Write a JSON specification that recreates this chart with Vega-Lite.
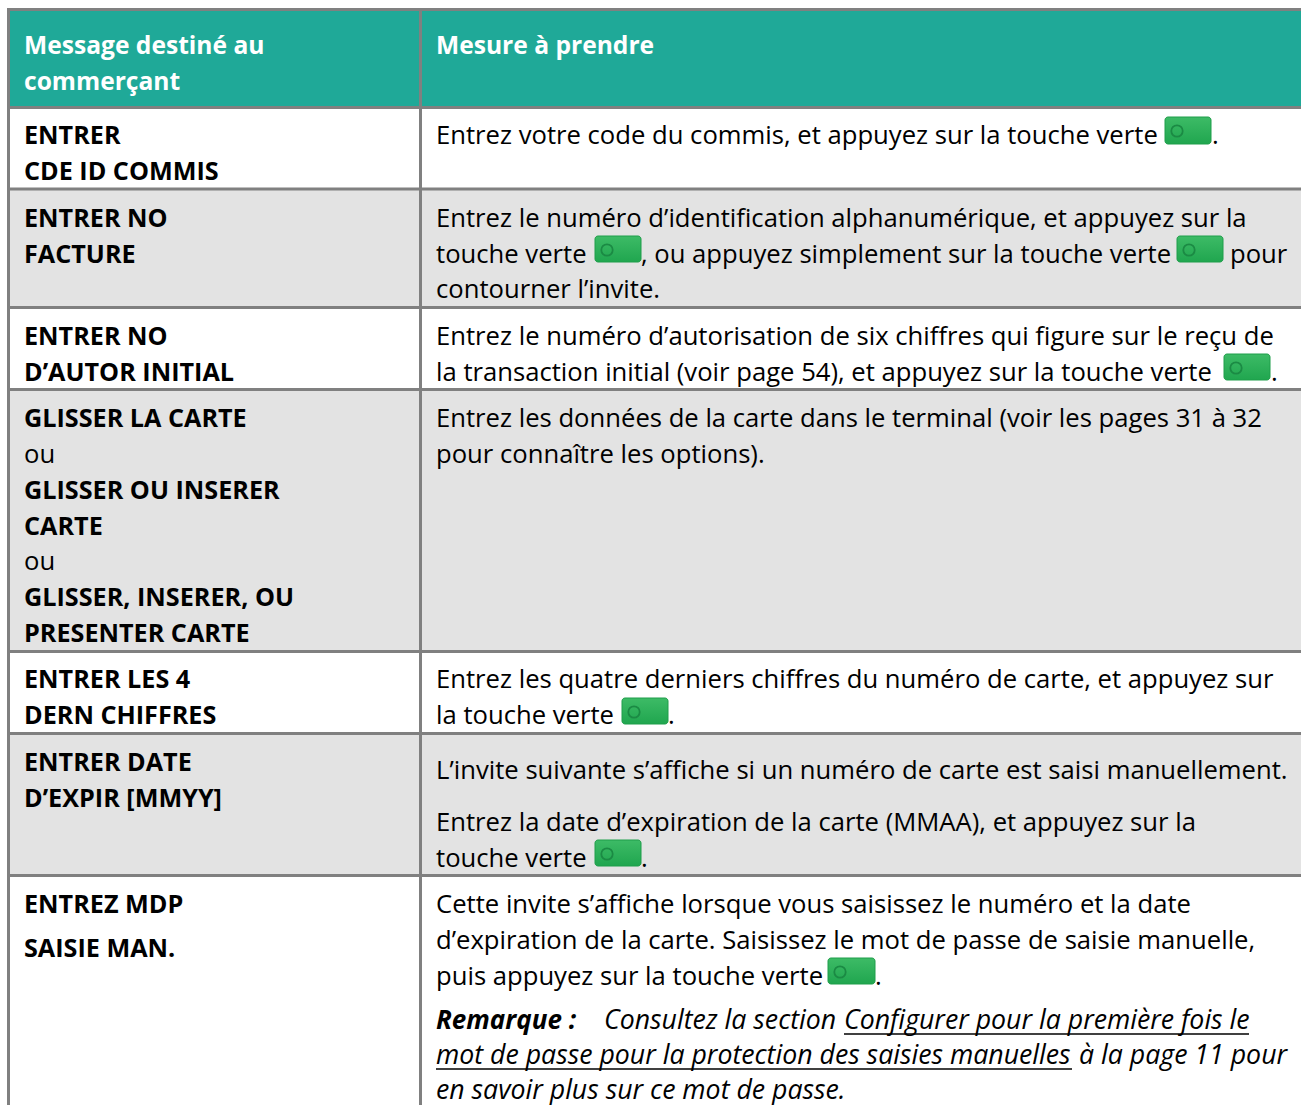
{"$schema":"https://vega.github.io/schema/vega-lite/v6.json","autosize":"none","padding":0,"width":1301,"height":1105,"background":"#ffffff","view":{"stroke":null},
"datasets":{
"cells":[{"x0":8,"x1":1301,"y0":10,"y1":107,"row":"header"},{"x0":8,"x1":1301,"y0":107,"y1":189,"row":"white"},{"x0":8,"x1":1301,"y0":189,"y1":307,"row":"grey"},{"x0":8,"x1":1301,"y0":307,"y1":389,"row":"white"},{"x0":8,"x1":1301,"y0":389,"y1":651,"row":"grey"},{"x0":8,"x1":1301,"y0":651,"y1":733,"row":"white"},{"x0":8,"x1":1301,"y0":733,"y1":875,"row":"grey"},{"x0":8,"x1":1301,"y0":875,"y1":1105,"row":"white"}],
"rules":[{"x0":7,"x1":1301,"y0":9.5,"y1":9.5},{"x0":8,"x1":1301,"y0":107.5,"y1":107.5},{"x0":8,"x1":1301,"y0":189,"y1":189},{"x0":8,"x1":1301,"y0":307.5,"y1":307.5},{"x0":8,"x1":1301,"y0":389.5,"y1":389.5},{"x0":8,"x1":1301,"y0":651.5,"y1":651.5},{"x0":8,"x1":1301,"y0":733.5,"y1":733.5},{"x0":8,"x1":1301,"y0":875.5,"y1":875.5},{"x0":8.5,"x1":8.5,"y0":8,"y1":1105},{"x0":420.5,"x1":420.5,"y0":8,"y1":1105}],
"lines":[
{"t":"Message destiné au","left":24,"base":54,"k":"head"},{"t":"commerçant","left":24,"base":90,"k":"head"},{"t":"Mesure à prendre","left":436,"base":54,"k":"head"},
{"t":"ENTRER","left":24,"base":144,"k":"bold"},{"t":"CDE ID COMMIS","left":24,"base":180,"k":"bold"},
{"t":"ENTRER NO","left":24,"base":227,"k":"bold"},{"t":"FACTURE","left":24,"base":263,"k":"bold"},
{"t":"ENTRER NO","left":24,"base":345,"k":"bold"},{"t":"D’AUTOR INITIAL","left":24,"base":381,"k":"bold"},
{"t":"GLISSER LA CARTE","left":24,"base":427,"k":"bold"},{"t":"ou","left":24,"base":463,"k":"reg"},{"t":"GLISSER OU INSERER","left":24,"base":499,"k":"bold"},{"t":"CARTE","left":24,"base":535,"k":"bold"},{"t":"ou","left":24,"base":570,"k":"reg"},{"t":"GLISSER, INSERER, OU","left":24,"base":606,"k":"bold"},{"t":"PRESENTER CARTE","left":24,"base":642,"k":"bold"},
{"t":"ENTRER LES 4","left":24,"base":688,"k":"bold"},{"t":"DERN CHIFFRES","left":24,"base":724,"k":"bold"},
{"t":"ENTRER DATE","left":24,"base":771,"k":"bold"},{"t":"D’EXPIR [MMYY]","left":24,"base":807,"k":"bold"},
{"t":"ENTREZ MDP","left":24,"base":913,"k":"bold"},{"t":"SAISIE MAN.","left":24,"base":957,"k":"bold"},
{"t":"Entrez votre code du commis, et appuyez sur la touche verte","left":436,"base":144,"k":"reg"},{"t":".","left":1212,"base":144,"k":"reg"},
{"t":"Entrez le numéro d’identification alphanumérique, et appuyez sur la","left":436,"base":227,"k":"reg"},
{"t":"touche verte","left":436,"base":263,"k":"reg"},{"t":", ou appuyez simplement sur la touche verte","left":641,"base":263,"k":"reg"},{"t":"pour","left":1230,"base":263,"k":"reg"},
{"t":"contourner l’invite.","left":436,"base":298,"k":"reg"},
{"t":"Entrez le numéro d’autorisation de six chiffres qui figure sur le reçu de","left":436,"base":345,"k":"reg"},
{"t":"la transaction initial (voir page 54), et appuyez sur la touche verte","left":436,"base":381,"k":"reg"},{"t":".","left":1271,"base":381,"k":"reg"},
{"t":"Entrez les données de la carte dans le terminal (voir les pages 31 à 32","left":436,"base":427,"k":"reg"},{"t":"pour connaître les options).","left":436,"base":463,"k":"reg"},
{"t":"Entrez les quatre derniers chiffres du numéro de carte, et appuyez sur","left":436,"base":688,"k":"reg"},{"t":"la touche verte","left":436,"base":724,"k":"reg"},{"t":".","left":668,"base":724,"k":"reg"},
{"t":"L’invite suivante s’affiche si un numéro de carte est saisi manuellement.","left":436,"base":779,"k":"reg"},
{"t":"Entrez la date d’expiration de la carte (MMAA), et appuyez sur la","left":436,"base":831,"k":"reg"},{"t":"touche verte","left":436,"base":867,"k":"reg"},{"t":".","left":641,"base":867,"k":"reg"},
{"t":"Cette invite s’affiche lorsque vous saisissez le numéro et la date","left":436,"base":913,"k":"reg"},
{"t":"d’expiration de la carte. Saisissez le mot de passe de saisie manuelle,","left":436,"base":949,"k":"reg"},
{"t":"puis appuyez sur la touche verte","left":436,"base":985,"k":"reg"},{"t":".","left":875,"base":985,"k":"reg"},
{"t":"Remarque :","left":436,"base":1029,"k":"boldit"},{"t":"Consultez la section","left":604,"base":1029,"k":"it"},{"t":"Configurer pour la première fois le","left":844,"base":1029,"k":"it"},
{"t":"mot de passe pour la protection des saisies manuelles","left":436,"base":1064,"k":"it"},{"t":"à la page 11 pour","left":1079,"base":1064,"k":"it"},
{"t":"en savoir plus sur ce mot de passe.","left":436,"base":1099,"k":"it"}],
"under":[{"x0":844,"x1":1249,"y0":1034,"y1":1034},{"x0":436,"x1":1072,"y0":1069,"y1":1069}],
"keys":[{"x0":1165,"x1":1211,"y0":117,"y1":144},{"x0":595,"x1":641,"y0":236,"y1":262},{"x0":1177,"x1":1223,"y0":236,"y1":262},{"x0":1224,"x1":1270,"y0":354,"y1":380},{"x0":622,"x1":668,"y0":698,"y1":724},{"x0":595,"x1":641,"y0":840,"y1":866},{"x0":828,"x1":875,"y0":958,"y1":984}],
"rings":[{"cx":1177,"cy":131},{"cx":607,"cy":250},{"cx":1189,"cy":250},{"cx":1236,"cy":368},{"cx":634,"cy":712},{"cx":607,"cy":854},{"cx":840,"cy":972}]
},
"layer":[
{"data":{"name":"cells"},"mark":{"type":"rect"},"encoding":{"x":{"field":"x0","type":"quantitative","scale":{"domain":[0,1301],"nice":false,"zero":false},"axis":null},"x2":{"field":"x1"},"y":{"field":"y0","type":"quantitative","scale":{"domain":[1105,0],"nice":false,"zero":false},"axis":null},"y2":{"field":"y1"},"fill":{"field":"row","type":"nominal","legend":null,"scale":{"domain":["header","white","grey"],"range":["#1fa998","#ffffff","#e3e3e3"]}}}},
{"data":{"name":"rules"},"mark":{"type":"rule","color":"#808080","strokeWidth":3},"encoding":{"x":{"field":"x0","type":"quantitative"},"x2":{"field":"x1"},"y":{"field":"y0","type":"quantitative"},"y2":{"field":"y1"}}},
{"data":{"name":"keys"},"mark":{"type":"rect","cornerRadius":3,"fill":{"gradient":"linear","x1":0,"y1":0,"x2":0,"y2":1,"stops":[{"offset":0,"color":"#3dbb66"},{"offset":1,"color":"#20a64f"}]},"stroke":"#1f9e4a","strokeWidth":1},"encoding":{"x":{"field":"x0","type":"quantitative"},"x2":{"field":"x1"},"y":{"field":"y0","type":"quantitative"},"y2":{"field":"y1"}}},
{"data":{"name":"rings"},"mark":{"type":"point","size":130,"filled":false,"stroke":"#1b8a44","strokeWidth":1.8,"opacity":1},"encoding":{"x":{"field":"cx","type":"quantitative"},"y":{"field":"cy","type":"quantitative"}}},
{"data":{"name":"under"},"mark":{"type":"rule","color":"#000000","strokeWidth":1.5},"encoding":{"x":{"field":"x0","type":"quantitative"},"x2":{"field":"x1"},"y":{"field":"y0","type":"quantitative"},"y2":{"field":"y1"}}},
{"data":{"name":"lines"},"transform":[{"filter":"datum.k==='reg'"}],"mark":{"type":"text","align":"left","baseline":"alphabetic","font":"Open Sans","fontSize":25.65,"color":"#000000"},"encoding":{"x":{"field":"left","type":"quantitative"},"y":{"field":"base","type":"quantitative"},"text":{"field":"t"}}},
{"data":{"name":"lines"},"transform":[{"filter":"datum.k==='bold'"}],"mark":{"type":"text","align":"left","baseline":"alphabetic","font":"Open Sans","fontSize":25.2,"fontWeight":"bold","color":"#000000"},"encoding":{"x":{"field":"left","type":"quantitative"},"y":{"field":"base","type":"quantitative"},"text":{"field":"t"}}},
{"data":{"name":"lines"},"transform":[{"filter":"datum.k==='head'"}],"mark":{"type":"text","align":"left","baseline":"alphabetic","font":"Open Sans","fontSize":24.6,"fontWeight":"bold","color":"#ffffff"},"encoding":{"x":{"field":"left","type":"quantitative"},"y":{"field":"base","type":"quantitative"},"text":{"field":"t"}}},
{"data":{"name":"lines"},"transform":[{"filter":"datum.k==='it'"}],"mark":{"type":"text","align":"left","baseline":"alphabetic","font":"Open Sans","fontSize":26.7,"fontStyle":"italic","color":"#000000"},"encoding":{"x":{"field":"left","type":"quantitative"},"y":{"field":"base","type":"quantitative"},"text":{"field":"t"}}},
{"data":{"name":"lines"},"transform":[{"filter":"datum.k==='boldit'"}],"mark":{"type":"text","align":"left","baseline":"alphabetic","font":"Open Sans","fontSize":26,"fontStyle":"italic","fontWeight":"bold","color":"#000000"},"encoding":{"x":{"field":"left","type":"quantitative"},"y":{"field":"base","type":"quantitative"},"text":{"field":"t"}}}
]}
